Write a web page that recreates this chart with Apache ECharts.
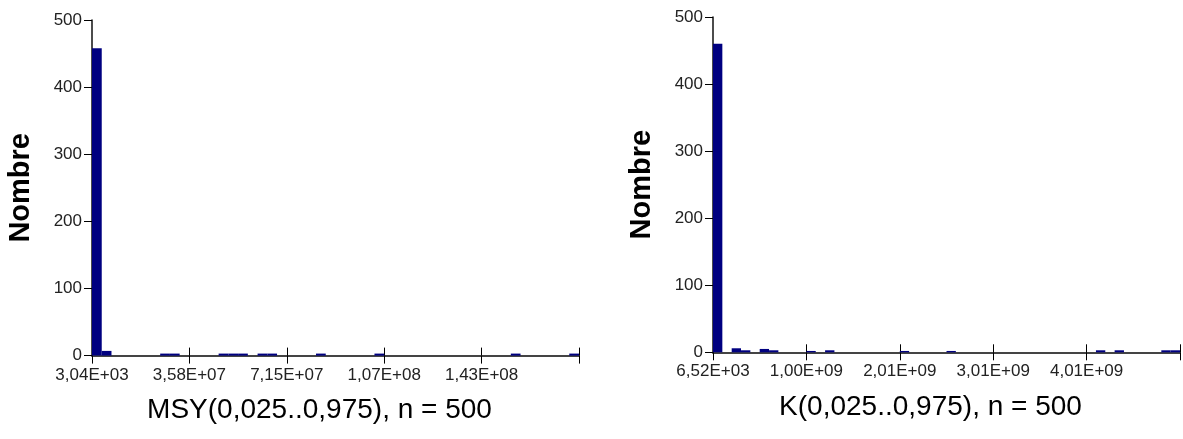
<!DOCTYPE html>
<html>
<head>
<meta charset="utf-8">
<script src="https://cdn.jsdelivr.net/npm/echarts@6/dist/echarts.min.js"></script>
<style>
  html, body { margin: 0; padding: 0; background: #fff; }
  #chart { width: 1183px; height: 439px; }
</style>
</head>
<body>
<div id="chart"></div>
<script>
// histogrammes de 50 classes (effectifs)
const msyCounts = [
  458, 7, 0, 0, 0, 0, 0, 3, 3, 0,
  0, 0, 0, 3, 3, 3, 0, 3, 3, 0,
  0, 0, 0, 3, 0, 0, 0, 0, 0, 3,
  0, 0, 0, 0, 0, 0, 0, 0, 0, 0,
  0, 0, 0, 3, 0, 0, 0, 0, 0, 3
]
const kCounts = [
  460, 0, 6, 3, 0, 5, 3, 0, 0, 0,
  2, 0, 3, 0, 0, 0, 0, 0, 0, 0,
  2, 0, 0, 0, 0, 2, 0, 0, 0, 0,
  0, 0, 0, 0, 0, 0, 0, 0, 0, 0,
  0, 3, 0, 3, 0, 0, 0, 0, 3, 3
]
const msyTicks = ['3,04E+03', '3,58E+07', '7,15E+07', '1,07E+08', '1,43E+08', '']
const kTicks = ['6,52E+03', '1,00E+09', '2,01E+09', '3,01E+09', '4,01E+09', '']
const yTicks = [0, 100, 200, 300, 400, 500]
const titles = ['MSY(0,025..0,975), n = 500', 'K(0,025..0,975), n = 500']

const tickFont = "'Liberation Sans', Arial, sans-serif"
const titleFont = "'Liberation Sans', Arial, sans-serif"

const grids = [
  { left: 92, top: 20, width: 487, height: 335.6 },
  { left: 713, top: 17, width: 467, height: 335.3 }
]

const xAxes = []
const yAxes = []
const series = []

function addHist(g, counts, ticks, name) {
  const bins = counts.map((_, i) => String(i + 1))
  // axe des classes (barres)
  xAxes.push({
    type: 'category', gridIndex: g, data: bins, show: false, boundaryGap: true
  })
  // axe gradue avec traits vers l'interieur + etiquettes
  xAxes.push({
    type: 'value', gridIndex: g, position: 'bottom', min: 0, max: 50, interval: 10,
    axisLine: { show: true, lineStyle: { color: '#444', width: 2 } },
    axisTick: { show: true, inside: true, length: 8, lineStyle: { color: '#000', width: 1 } },
    axisLabel: {
      show: true, margin: 11, color: '#222', fontSize: 17, fontFamily: tickFont,
      showMinLabel: true, showMaxLabel: true,
      formatter: v => ticks[Math.round(v / 10)]
    },
    splitLine: { show: false },
    name: name, nameLocation: 'middle', nameGap: 41,
    nameTextStyle: { fontSize: 28, color: '#000', fontFamily: titleFont, padding: [0, 32, 0, 0] }
  })
  // traits vers l'exterieur
  xAxes.push({
    type: 'value', gridIndex: g, position: 'bottom', min: 0, max: 50, interval: 10,
    axisLine: { show: false },
    axisTick: { show: true, inside: false, length: 8, lineStyle: { color: '#000', width: 1 } },
    axisLabel: { show: false },
    splitLine: { show: false }
  })
  yAxes.push({
    type: 'value', gridIndex: g, min: yTicks[0], max: yTicks[yTicks.length - 1], interval: 100,
    axisLine: { show: true, lineStyle: { color: '#111', width: 1.5 } },
    axisTick: { show: true, length: 8, lineStyle: { color: '#000', width: 1 } },
    axisLabel: { margin: 10, color: '#222', fontSize: 17, fontFamily: tickFont },
    splitLine: { show: false },
    name: 'Nombre', nameLocation: 'middle', nameGap: 57, nameRotate: 90,
    nameTextStyle: { fontSize: 29, fontWeight: 'bold', color: '#000', fontFamily: titleFont }
  })
  series.push({
    type: 'bar', xAxisIndex: g * 3, yAxisIndex: g, data: counts,
    barCategoryGap: '0%', itemStyle: { color: '#000080' }, silent: true
  })
}

addHist(0, msyCounts, msyTicks, titles[0])
addHist(1, kCounts, kTicks, titles[1])

const chart = echarts.init(document.getElementById('chart'), null, { renderer: 'canvas' })
chart.setOption({
  backgroundColor: '#fff',
  animation: false,
  grid: grids,
  xAxis: xAxes,
  yAxis: yAxes,
  series: series
})

window.addEventListener('resize', () => chart.resize())
</script>
</body>
</html>
